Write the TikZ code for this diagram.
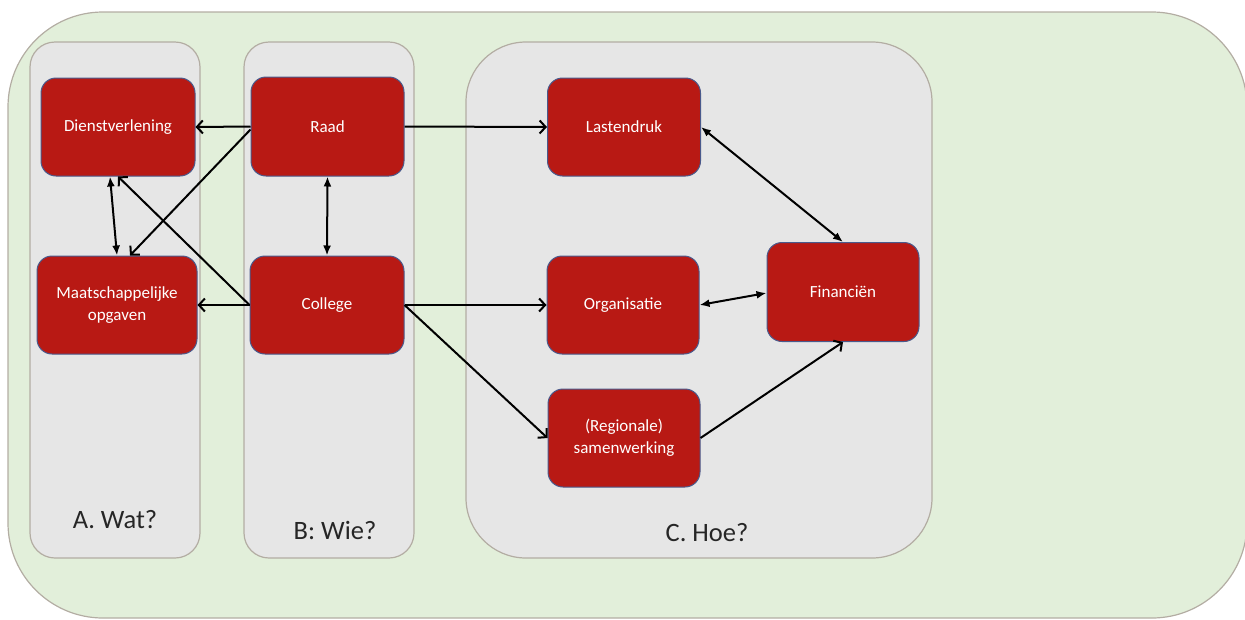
\documentclass[tikz,border=0pt]{standalone}
\usepackage{fontspec}
\setmainfont{Carlito}
\usetikzlibrary{arrows.meta,calc}
\definecolor{boxred}{HTML}{B81914}
\definecolor{boxline}{HTML}{4A5A8C}
\definecolor{panelfill}{HTML}{E6E6E6}
\definecolor{panelline}{HTML}{B3ADA3}
\definecolor{outerfill}{HTML}{E2EFDA}
\definecolor{labeltext}{HTML}{262626}
\tikzset{
  redbox/.style={rectangle, rounded corners=15, fill=boxred, draw=boxline, line width=1pt,
    text=white, font=\fontsize{17}{22}\selectfont, align=center, inner sep=0pt},
  panel/.style={fill=panelfill, draw=panelline, line width=1.2pt},
  oneway/.style={line width=2pt, -{Straight Barb[length=6pt,width=13pt,line width=2pt]}},
  twoway/.style={line width=2pt, {Latex[length=10pt,width=8pt]}-{Latex[length=10pt,width=8pt]}},
  panellabel/.style={text=labeltext, font=\fontsize{26.5}{30}\selectfont, inner sep=0pt}
}
\begin{document}
\begin{tikzpicture}[x=1pt,y=-1pt]
\useasboundingbox (0,0) rectangle (1245,619);
% outer background
\path[fill=outerfill, draw=panelline, line width=1.2pt, rounded corners=95] (8,12) rectangle (1247,618);
% panels
\path[panel, rounded corners=25] (30,42) rectangle (200,558);
\path[panel, rounded corners=25] (244,42) rectangle (414,558);
\path[panel, rounded corners=60] (466,42) rectangle (932,558);
% panel labels
\node[panellabel] (lblA) at (115,520) {A. Wat?};
\node[panellabel] (lblB) at (335,530) {B: Wie?};
\node[panellabel] (lblC) at (707,533) {C. Hoe?};
% boxes
\node[redbox, minimum width=154, minimum height=98] (dienst) at (118,127) {Dienstverlening};
\node[redbox, minimum width=153, minimum height=99] (raad) at (327.5,126.5) {Raad};
\node[redbox, minimum width=160, minimum height=98] (maat) at (117,305) {Maatschappelijke\\opgaven};
\node[redbox, minimum width=154, minimum height=98] (college) at (327,305) {College};
\node[redbox, minimum width=153, minimum height=98] (lasten) at (624,127) {Lastendruk};
\node[redbox, minimum width=152, minimum height=98] (organ) at (623,305) {Organisatie};
\node[redbox, minimum width=152, minimum height=98] (regio) at (624,438) {(Regionale)\\samenwerking};
\node[redbox, minimum width=152, minimum height=99] (fin) at (843,292) {Financiën};
% connectors
\draw[oneway] (raad.west) -- (dienst.east);
\draw[oneway] ($(raad.west)+(0,3)$) -- ($(maat.north)+(13,0)$);
\draw[oneway] (college.west) -- (dienst.south);
\draw[twoway] ($(dienst.south)+(-8,0)$) -- (maat.north);
\draw[oneway] (college.west) -- (maat.east);
\draw[twoway] (raad.south) -- (college.north);
\draw[oneway] (raad.east) -- (lasten.west);
\draw[oneway] (college.east) -- (organ.west);
\draw[oneway] (college.east) -- (regio.west);
\draw[twoway] (lasten.east) -- (fin.north);
\draw[twoway] (organ.east) -- ($(fin.west)+(0,1)$);
\draw[oneway] (regio.east) -- (fin.south);
\end{tikzpicture}
\end{document}
